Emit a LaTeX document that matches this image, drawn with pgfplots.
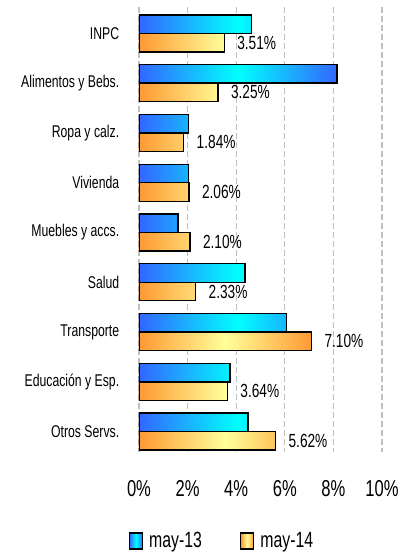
\documentclass[border=0pt]{standalone}
\usepackage{fontspec}
\setmainfont{Liberation Sans}[FakeStretch=0.72]
\usepackage{pgfplots}
\pgfplotsset{compat=1.18}
\definecolor{bluL}{HTML}{3366FF}
\definecolor{cyaM}{HTML}{00FFFF}
\definecolor{orL}{HTML}{FF9933}
\definecolor{yeM}{HTML}{FFFF99}
\definecolor{gridgray}{HTML}{BFBFBF}
\begin{document}
\begin{tikzpicture}
\useasboundingbox (-139pt,-102pt) rectangle (275pt,452pt);
\begin{axis}[
  scale only axis, width=243pt, height=445pt,
  xbar=0pt, bar width=18.5pt,
  xmin=0, xmax=10, ymin=-0.53, ymax=8.41, y dir=reverse,
  axis line style={draw=none}, tick style={draw=none},
  xtick={0,2,4,6,8,10}, xticklabel={\pgfmathprintnumber{\tick}\%},
  ytick={0,...,8},
  yticklabels={INPC,Alimentos y Bebs.,Ropa y calz.,Vivienda,Muebles y accs.,Salud,Transporte,Educación y Esp.,Otros Servs.},
  xmajorgrids, grid style={gridgray, line width=1.3pt, dash pattern=on 6pt off 3pt},
  /pgf/number format/assume math mode=true,
  xticklabel style={font=\fontsize{23}{25}\selectfont, yshift=-25pt},
  yticklabel style={font=\fontsize{17}{19}\selectfont, xshift=-12pt},
  legend style={at={(83/243,-89/445)}, anchor=center, draw=none, fill=none,
    font=\fontsize{22}{24}\selectfont,
    /tikz/every even column/.append style={column sep=36pt}},
  legend columns=2, legend cell align=left,
  legend image code/.code={\draw[#1] (0pt,-8pt) rectangle (13pt,8pt); \path (17pt,0pt);},
]
\addplot[draw=black, line width=1.4pt, left color=bluL, right color=bluL, middle color=cyaM,
  bar shift=9.25pt]
  coordinates {(4.63,0) (8.14,1) (2.04,2) (2.04,3) (1.60,4) (4.37,5) (6.08,6) (3.75,7) (4.48,8)};
\addlegendentry{may-13}
\addplot[draw=black, line width=1.4pt, left color=orL, right color=orL, middle color=yeM,
  bar shift=-9.25pt,
  nodes near coords={\pgfmathprintnumber[fixed,fixed zerofill,precision=2]{\pgfplotspointmeta}\%},
  nodes near coords style={anchor=west, xshift=9pt, font=\fontsize{19}{21}\selectfont, black}]
  coordinates {(3.51,0) (3.25,1) (1.84,2) (2.06,3) (2.10,4) (2.33,5) (7.10,6) (3.64,7) (5.62,8)};
\addlegendentry{may-14}
\end{axis}
\end{tikzpicture}
\end{document}
